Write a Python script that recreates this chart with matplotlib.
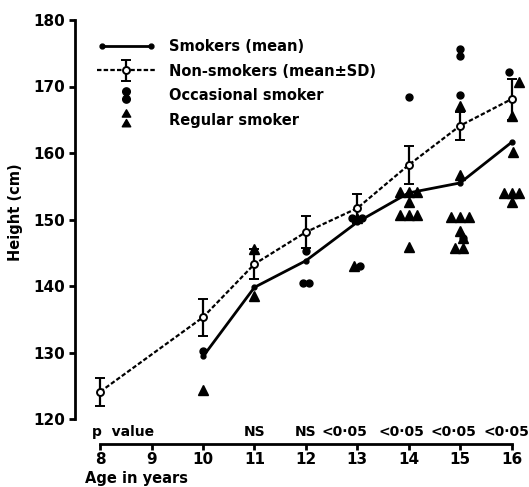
import matplotlib
matplotlib.use("Agg")
import matplotlib.pyplot as plt
from matplotlib.lines import Line2D
from matplotlib.path import Path
from matplotlib.legend_handler import HandlerLine2D, HandlerErrorbar
import numpy as np

plt.rcParams['font.family'] = ['DejaVu Sans']

# ---- data ----
ages_ticks = [8, 9, 10, 11, 12, 13, 14, 15, 16]
ns_age = [8, 10, 11, 12, 13, 14, 15, 16]
ns_mean = [124.1, 135.3, 143.3, 148.1, 151.7, 158.2, 164.1, 168.1]
ns_sd = [2.1, 2.8, 2.3, 2.4, 2.2, 2.8, 2.1, 3.1]

s_age = [10, 11, 12, 13, 14, 15, 16]
s_mean = [129.4, 139.8, 143.8, 149.6, 154.0, 155.5, 161.6]

reg_age = [10, 11, 11, 13, 13,
           14, 14, 14, 14, 14, 14, 14, 14,
           15, 15, 15, 15, 15, 15, 15, 15, 15,
           16, 16, 16, 16, 16, 16, 16]
reg_height = [124.4, 138.5, 145.5, 143.0, 150.3,
              154.2, 154.2, 154.2, 152.6, 150.7, 150.7, 150.7, 145.9,
              167.1, 156.7, 150.4, 150.4, 150.4, 148.2, 147.2, 145.7, 145.7,
              170.7, 165.5, 160.2, 154.0, 154.0, 154.0, 152.7]
reg_jitter = [0, 0, 0, -0.06, 0,
              -0.17, 0, 0.17, 0, -0.17, 0, 0.17, 0,
              0, 0, -0.17, 0, 0.17, 0, 0.05, -0.1, 0.05,
              0.15, 0, 0.03, -0.15, 0, 0.15, 0]

occ_age = [10, 12, 12, 12, 13, 13, 13, 14, 15, 15, 15, 15, 16]
occ_height = [130.3, 145.2, 140.5, 140.5, 143.0, 150.2, 150.2, 168.4,
              175.6, 174.6, 168.7, 147.2, 172.2]
occ_jitter = [0, 0, -0.06, 0.06, 0.06, -0.1, 0.1, 0, 0, 0, 0, 0.05, -0.05]

p_age = [11, 12, 13, 14, 15, 16]
p_text = ["NS", "NS", "<0·05", "<0·05", "<0·05", "<0·05"]
p_shift = [0, 0, -0.25, -0.15, -0.12, -0.1]

# ---- figure ----
fig = plt.figure(figsize=(5.29, 4.87), dpi=100)
W, H = 529, 487
ax = fig.add_axes([75 / W, 1 - 419 / H, 454 / W, 399 / H])
ax.set_xlim(7.51, 16.34)
ax.set_ylim(120, 180)

FS = 10
LFS = 10.5
BOLD = 'bold'

# non-smokers
eb = ax.errorbar(ns_age, ns_mean, yerr=ns_sd, fmt='o', color='black',
                 ls=(0, (2, 1)), lw=1.6, ms=5, mfc='white', mec='black',
                 mew=1.4, elinewidth=1.6, capsize=3.6, capthick=1.6,
                 zorder=4, label='Non-smokers (mean±SD)')

# smokers
ax.plot(s_age, s_mean, color='black', lw=2.0, marker='o', ms=3.5,
        zorder=3)

# scatter points
ax.plot(np.array(reg_age) + np.array(reg_jitter), reg_height, ls='none',
        marker='^', ms=6.5, color='black', zorder=2)
ax.plot(np.array(occ_age) + np.array(occ_jitter), occ_height, ls='none',
        marker='o', ms=5, color='black', zorder=2)

# legend
def stacked(base):
    p = Path.unit_circle() if base == 'o' else Path.unit_regular_polygon(3)
    v1 = p.vertices * 0.5 + [0, 0.5]
    v2 = p.vertices * 0.5 + [0, -0.5]
    return Path.make_compound_path(Path(v1, p.codes), Path(v2, p.codes))

h_s = Line2D([], [], color='black', lw=2.0, marker='o', ms=3.5)
h_o = Line2D([], [], ls='none', color='black', marker=stacked('o'), ms=11)
h_r = Line2D([], [], ls='none', color='black', marker=stacked('^'), ms=14)
leg = ax.legend([h_s, eb, h_o, h_r],
                ['Smokers (mean)', 'Non-smokers (mean±SD)',
                 'Occasional smoker', 'Regular smoker'],
                handler_map={h_s: HandlerLine2D(numpoints=2),
                             eb: HandlerErrorbar(numpoints=1, yerr_size=0.75),
                             h_o: HandlerLine2D(numpoints=1),
                             h_r: HandlerLine2D(numpoints=1)},
                loc='upper left', bbox_to_anchor=(0.02, 0.985),
                frameon=False, handlelength=4.0, handletextpad=0.9,
                labelspacing=0.65, prop={'size': LFS, 'weight': BOLD})

# axes styling
for s in ['top', 'right']:
    ax.spines[s].set_visible(False)
ax.spines['left'].set_linewidth(2)
ax.spines['bottom'].set_linewidth(2)
ax.spines['bottom'].set_position(('outward', 18))
ax.spines['bottom'].set_bounds(8, 16)
ax.set_xticks(ages_ticks)
ax.set_xticklabels([str(a) for a in ages_ticks])
ax.set_yticks([120, 130, 140, 150, 160, 170, 180])
ax.tick_params(axis='both', width=2, length=4, labelsize=FS + 1, pad=3)
ax.tick_params(axis='x', pad=2)
for lab in ax.get_xticklabels() + ax.get_yticklabels():
    lab.set_fontweight(BOLD)

# p values
trans = ax.get_xaxis_transform()
ax.text(7.85, -13 / 399, 'p  value', transform=trans, ha='left',
        va='center', fontsize=FS, fontweight=BOLD, clip_on=False)
for a, t, sh in zip(p_age, p_text, p_shift):
    ax.text(a + sh, -13 / 399, t, transform=trans, ha='center', va='center',
            fontsize=FS, fontweight=BOLD, clip_on=False)

fig.text(85 / W, 1 - 479 / H, 'Age in years', ha='left', va='center',
         fontsize=10.5, fontweight=BOLD)
fig.text(16 / W, 1 - 212 / H, 'Height (cm)', ha='center', va='center',
         rotation=90, fontsize=10.5, fontweight=BOLD)

fig.savefig('out.png', dpi=100)
